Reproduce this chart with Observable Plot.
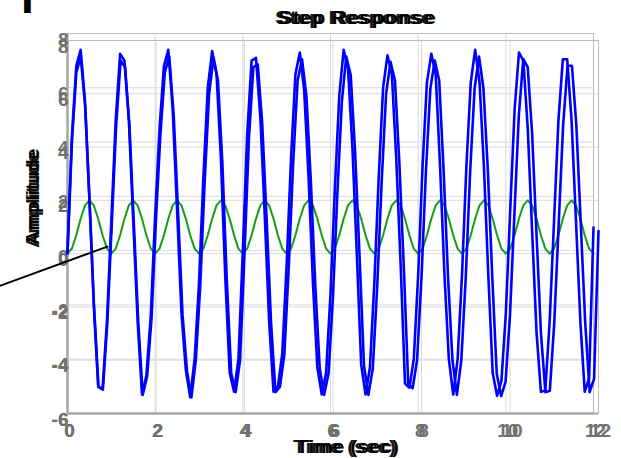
<!DOCTYPE html>
<html><head><meta charset="utf-8">
<script src="https://cdn.jsdelivr.net/npm/d3@7"></script>
<script src="https://cdn.jsdelivr.net/npm/@observablehq/plot@0.6"></script>
<style>
html,body{margin:0;padding:0;background:#fff;}
#chart{position:relative;width:621px;height:458px;overflow:hidden;font-family:"Liberation Sans",Arial,sans-serif;}
#chart svg{position:absolute;left:0;top:0;}
.lbl{position:absolute;font-weight:bold;font-size:19px;line-height:19px;white-space:nowrap;color:#000;transform-origin:0 0;font-family:"Liberation Sans",Arial,sans-serif;}
</style></head>
<body><div id="chart"></div>
<script>
const sampleTimes = [0,0.1,0.2,0.3,0.4,0.5,0.6,0.7,0.8,0.9,
1,1.1,1.2,1.3,1.4,1.5,1.6,1.7,1.8,1.9,
2,2.1,2.2,2.3,2.4,2.5,2.6,2.7,2.8,2.9,
3,3.1,3.2,3.3,3.4,3.5,3.6,3.7,3.8,3.9,
4,4.1,4.2,4.3,4.4,4.5,4.6,4.7,4.8,4.9,
5,5.1,5.2,5.3,5.4,5.5,5.6,5.7,5.8,5.9,
6,6.1,6.2,6.3,6.4,6.5,6.6,6.7,6.8,6.9,
7,7.1,7.2,7.3,7.4,7.5,7.6,7.7,7.8,7.9,
8,8.1,8.2,8.3,8.4,8.5,8.6,8.7,8.8,8.9,
9,9.1,9.2,9.3,9.4,9.5,9.6,9.7,9.8,9.9,
10,10.1,10.2,10.3,10.4,10.5,10.6,10.7,10.8,10.9,
11,11.1,11.2,11.3,11.4,11.5,11.6,11.7,11.8,11.9,12];

const blueResponse = [0,4.2,6.8,7.4,5.5,1.9,-2.0,-5.0,-5.1,-2.6,
1.1,4.8,7.25,7.0,4.8,1.1,-2.6,-5.3,-4.6,-2.4,
1.3,4.5,6.8,7.4,5.2,1.5,-2.3,-4.4,-5.4,-4.0,
-1.2,2.7,6.0,7.35,6.5,3.4,-1.0,-4.5,-5.2,-4.0,
0.0,4.3,7.0,7.1,4.9,1.3,-2.6,-5.2,-5.0,-3.8,
-0.5,3.4,6.5,7.3,5.9,2.7,-1.2,-4.3,-5.3,-4.5,
-1.6,2.3,5.7,7.4,6.7,3.8,-0.1,-4.2,-5.3,-4.3,
-1.2,2.7,6.0,7.2,6.5,3.4,-0.5,-4.9,-5.05,-4.0,
-0.9,3.1,6.2,7.25,6.5,3.1,-0.9,-4.0,-5.3,-4.0,
-0.9,3.1,6.2,7.4,6.2,3.1,-0.9,-4.5,-5.35,-4.8,
-2.3,1.5,5.2,7.3,7.0,4.5,0.7,-3.0,-5.2,-5.15,
-2.6,1.1,4.8,7.05,7.05,4.8,1.1,-2.6,-5.2,-4.7,0.85];

const greenInput = [0,0.19,0.69,1.31,1.81,2,1.81,1.31,0.69,0.19,
0,0.19,0.69,1.31,1.81,2,1.81,1.31,0.69,0.19,
0,0.19,0.69,1.31,1.81,2,1.81,1.31,0.69,0.19,
0,0.19,0.69,1.31,1.81,2,1.81,1.31,0.69,0.19,
0,0.19,0.69,1.31,1.81,2,1.81,1.31,0.69,0.19,
0,0.19,0.69,1.31,1.81,2,1.81,1.31,0.69,0.19,
0,0.19,0.69,1.31,1.81,2,1.81,1.31,0.69,0.19,
0,0.19,0.69,1.31,1.81,2,1.81,1.31,0.69,0.19,
0,0.19,0.69,1.31,1.81,2,1.81,1.31,0.69,0.19,
0,0.19,0.69,1.31,1.81,2,1.81,1.31,0.69,0.19,
0,0.19,0.69,1.31,1.81,2,1.81,1.31,0.69,0.19,
0,0.19,0.69,1.31,1.81,2,1.81,1.31,0.69,0.19,0];

const annotT = [-1.53, 0.91];
const annotV = [-1.29, 0.15];

const xTicks = [0,2,4,6,8,10,12];
const yTicks = [-6,-4,-2,0,2,4,6,8];
const titleText = "Step Response";
const xLabelText = "Time (sec)";
const yLabelText = "Amplitude";

const W = 621, H = 458;
const blueRows = sampleTimes.map((t,i)=>({t, v: blueResponse[i]}));
const greenRows = sampleTimes.map((t,i)=>({t, v: greenInput[i]}));
const annotRows = annotT.map((t,i)=>({t, v: annotV[i]}));

const FONT = "'Liberation Sans', Arial, sans-serif";
function layer(mr, mt, marks, axes) {
  return Plot.plot({
    width: W, height: H,
    marginLeft: 67, marginRight: mr, marginTop: mt, marginBottom: 45,
    x: {domain: [0, 12], ...(axes ? {} : {axis: null})},
    y: {domain: [-6, 8], ...(axes ? {} : {axis: null})},
    style: {background: "transparent", fontFamily: FONT, overflow: "visible"},
    marks
  });
}
function frameMarks() {
  const txt = {fontSize: 19, fontWeight: "bold", fill: "#707070", fontFamily: FONT, tickFormat: d => String(d), label: null};
  return [
    Plot.gridX(xTicks, {stroke: "#dadada", strokeOpacity: 1}),
    Plot.gridY(yTicks, {stroke: "#dadada", strokeOpacity: 1}),
    Plot.frame({stroke: "#bdbdbd"}),
    Plot.ruleX([0], {stroke: "#a5a5a5", strokeWidth: 2}),
    Plot.ruleY([-6], {stroke: "#a5a5a5", strokeWidth: 2}),
    Plot.axisX(xTicks, {...txt, tickSize: 0, tickPadding: 10, dx: 2}),
    Plot.axisY(yTicks, {...txt, tickSize: 0, tickPadding: 0, dx: 1, dy: 6})
  ];
}
const chart = document.getElementById("chart");
// frame A (top 33, right 593) and the doubled frame B (top 40, right 598)
chart.appendChild(layer(28, 33, frameMarks(), true));
chart.appendChild(layer(23, 40, frameMarks(), true));
// data layers
chart.appendChild(layer(28, 40, [Plot.line(greenRows, {x: "t", y: "v", stroke: "#12a012", strokeWidth: 2})], false));
chart.appendChild(layer(23, 40, [Plot.line(blueRows, {x: "t", y: "v", stroke: "#0000ff", strokeWidth: 2.6})], false));
chart.appendChild(layer(28, 33, [
  Plot.line(blueRows, {x: "t", y: "v", stroke: "#0000ff", strokeWidth: 2.6}),
  Plot.line(annotRows, {x: "t", y: "v", stroke: "#000", strokeWidth: 2})
], false));

function addLabel(text, left, top, transform, color) {
  const d = document.createElement("div");
  d.className = "lbl";
  d.textContent = text;
  d.style.left = left + "px";
  d.style.top = top + "px";
  d.style.transform = transform;
  d.style.color = color || "#000";
  chart.appendChild(d);
}
addLabel(titleText, 275, 8, "scaleX(1.15)", "#151515");
addLabel(titleText, 278, 8, "scaleX(1.15)");
addLabel(xLabelText, 293, 437, "scaleX(1.1)", "#151515");
addLabel(xLabelText, 296, 437, "scaleX(1.1)");
addLabel(yLabelText, 23, 248, "rotate(-90deg) scaleX(1.04)", "#151515");
addLabel(yLabelText, 23, 245, "rotate(-90deg) scaleX(1.04)");
const mark = document.createElement("div");
mark.className = "lbl";
mark.textContent = "I";
mark.style.cssText += "left:21px;top:-26px;font-size:46px;line-height:46px;";
chart.appendChild(mark);
</script></body></html>
